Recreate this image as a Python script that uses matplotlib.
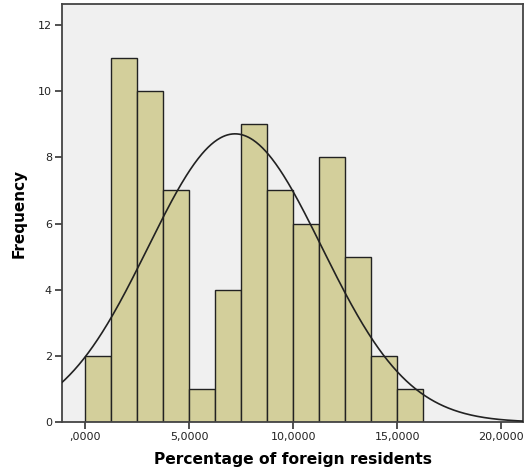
import numpy as np
import matplotlib
matplotlib.use("Agg")
import matplotlib.pyplot as plt
from matplotlib.ticker import FixedLocator, FuncFormatter

# Histogram of the percentage of foreign residents
bin_start = 0.0
bin_width = 1.25
counts = [2, 11, 10, 7, 1, 4, 9, 7, 6, 8, 5, 2, 1]

# Fitted normal curve parameters
curve_mean = 7.2
curve_std = 4.18

x_ticks = [0, 5, 10, 15, 20]
y_ticks = [0, 2, 4, 6, 8, 10, 12]
x_label = "Percentage of foreign residents"
y_label = "Frequency"

fig = plt.figure(figsize=(5.26, 4.74), dpi=100)
fig.patch.set_facecolor("white")
ax = fig.add_axes([0.1173, 0.1091, 0.8776, 0.8825])
ax.set_facecolor("#f0f0f0")

edges = bin_start + bin_width * np.arange(len(counts) + 1)
ax.bar(edges[:-1], counts, width=bin_width, align="edge",
       color="#d3cf9b", edgecolor="#222222", linewidth=1.0, zorder=2)

n_total = sum(counts)
xs = np.linspace(-1.2, 21.2, 600)
pdf = np.exp(-0.5 * ((xs - curve_mean) / curve_std) ** 2) / (curve_std * np.sqrt(2 * np.pi))
ax.plot(xs, n_total * bin_width * pdf, color="#222222", linewidth=1.2, zorder=3)

ax.set_xlim(-1.13, 21.06)
ax.set_ylim(0, 12.63)

ax.xaxis.set_major_locator(FixedLocator(x_ticks))
ax.yaxis.set_major_locator(FixedLocator(y_ticks))


def spss_fmt(v, pos):
    s = f"{v:.4f}".replace(".", ",")
    if s.startswith("0,"):
        s = s[1:]
    return s


ax.xaxis.set_major_formatter(FuncFormatter(spss_fmt))
ax.yaxis.set_major_formatter(FuncFormatter(lambda v, p: f"{int(v)}"))

ax.tick_params(axis="both", direction="out", length=5, width=1.2,
               color="#333333", labelsize=8, labelcolor="#222222", pad=2)
ax.tick_params(top=False, right=False)

for sp in ax.spines.values():
    sp.set_color("#444444")
    sp.set_linewidth(1.3)

ax.set_xlabel(x_label, fontsize=11.2, fontweight="bold", labelpad=7)
ax.set_ylabel(y_label, fontsize=11, fontweight="bold", labelpad=8)

fig.savefig("out.png", dpi=100)
